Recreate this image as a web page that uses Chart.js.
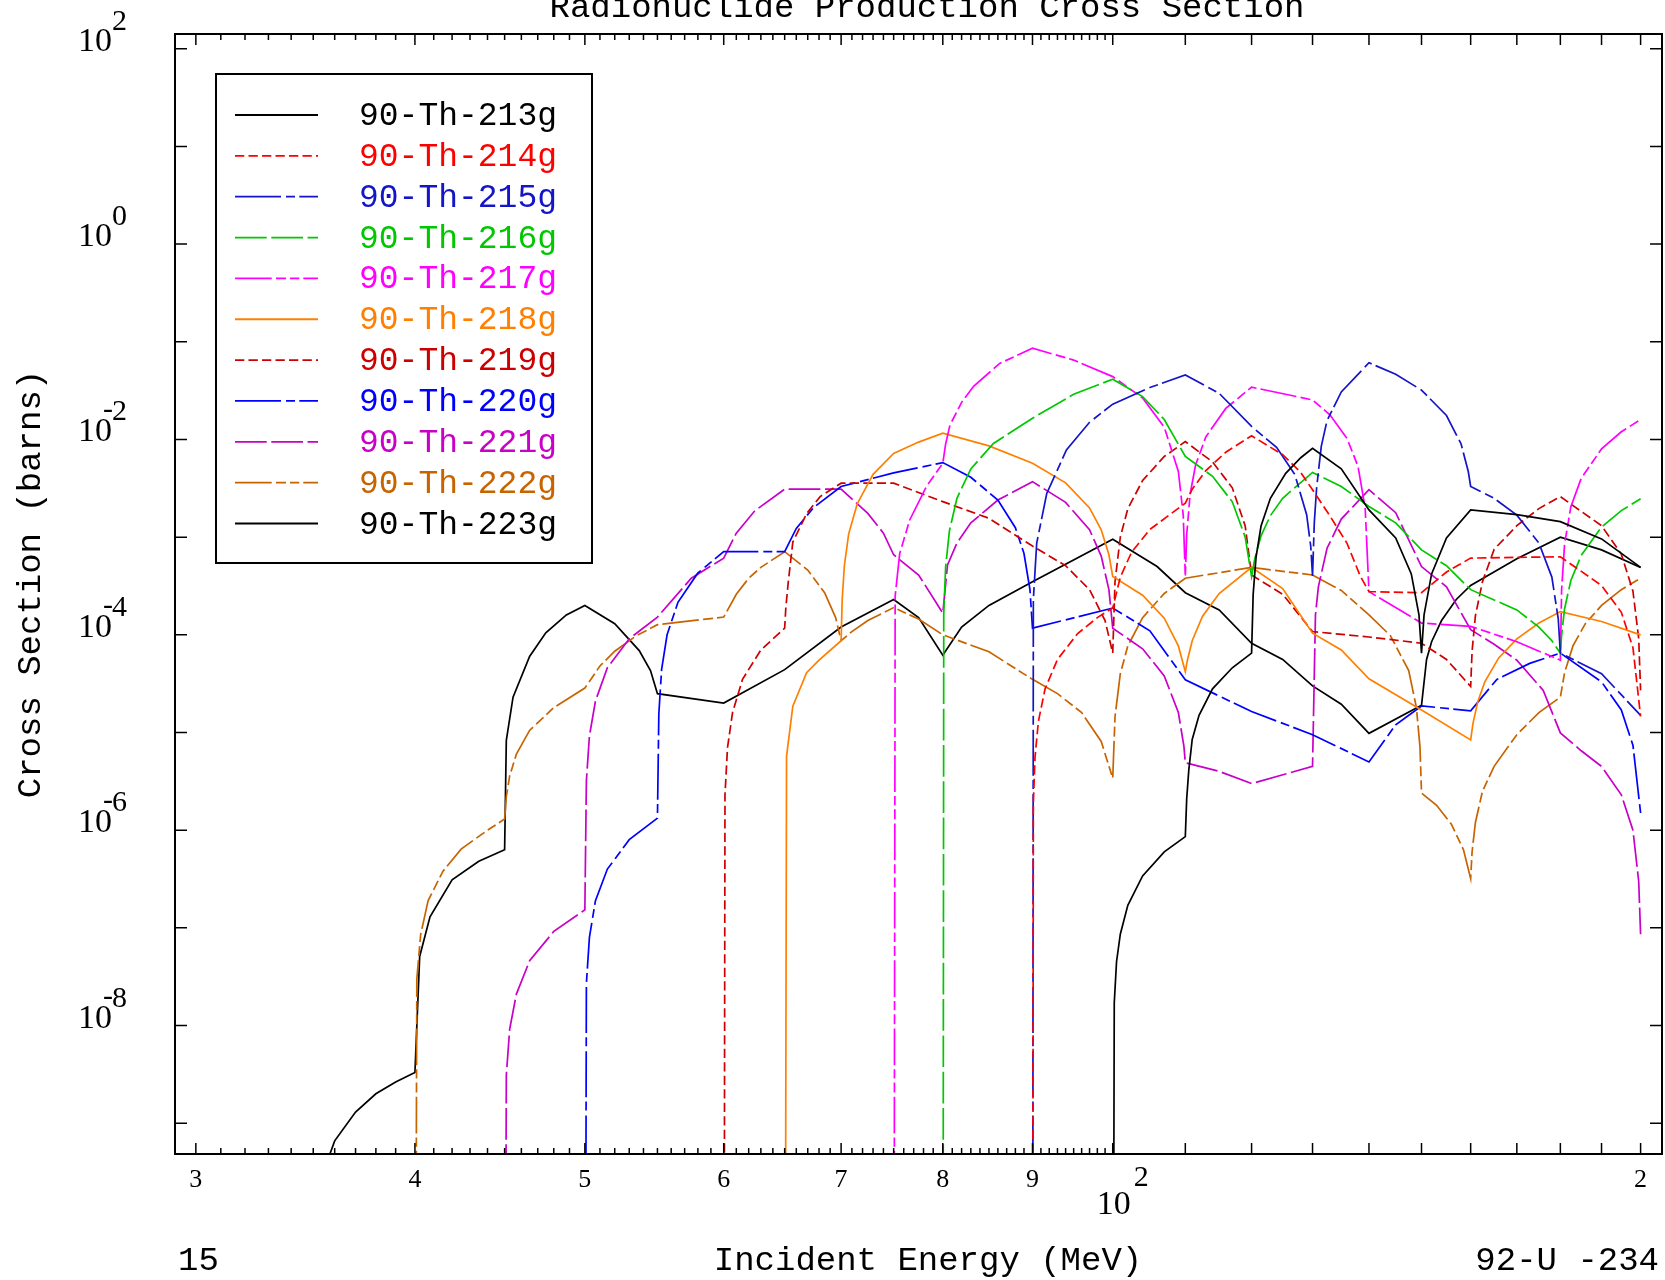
<!DOCTYPE html>
<html>
<head>
<meta charset="utf-8">
<script src="https://cdn.jsdelivr.net/npm/chart.js@4.4.0/dist/chart.umd.min.js"></script>
<style>
  html, body { margin: 0; padding: 0; background: #fff; }
  #wrap { width: 1665px; height: 1280px; }
</style>
</head>
<body>
<div id="wrap"><canvas id="xs" width="1665" height="1280"></canvas></div>
<script>
// [incident energy (MeV), cross section (barns)]; 0 = reaction threshold
const th213 = [[100,0],[100.2,1.7e-8],[100.5,4.5e-8],[101,8.6e-8],[102,1.7e-7],[104,3.4e-7],[107,6.0e-7],[110,8.6e-7],
  [110.2,2.1e-6],[110.5,4.1e-6],[111,8.5e-6],[112,1.5e-5],[114,2.8e-5],[117,4.6e-5],[120,6.5e-5],[120.25,2.6e-4],
  [120.7,6.2e-4],[121.5,1.3e-3],[123,2.5e-3],[125.5,4.5e-3],[128,6.5e-3],[130,8.1e-3],[135,5.0e-3],[140,1.9e-3],
  [145,9.8e-4],[148,4.2e-4],[149.5,1.6e-4],[150,6.5e-5],[150.5,1.6e-4],[152,4.2e-4],[155,9.8e-4],[160,1.9e-3],
  [170,1.7e-3],[180,1.44e-3],[190,9.6e-4],[200,4.9e-4]];
const th214 = [[90,0],[90.1,1.9e-6],[90.3,5.6e-6],[90.7,1.3e-5],[91.5,2.8e-5],[93,5.6e-5],[95.5,1.03e-4],[98,1.5e-4],
  [100,1.88e-4],[101,3.9e-4],[102.5,7.0e-4],[105,1.2e-3],[110,2.23e-3],[111,3.1e-3],[113,4.8e-3],[116,7.4e-3],
  [120,1.09e-2],[125,7.0e-3],[128,4.6e-3],[130,3.05e-3],[133,1.65e-3],[136,8.7e-4],[138.4,4.0e-4],[140,2.77e-4],
  [150,2.7e-4],[155,4.4e-4],[160,6.1e-4],[180,6.3e-4],[190,3.2e-4],[195,1.7e-4],[198,7.4e-5],[200,1.46e-5]];
const th215 = [[90,0],[90.1,2.3e-4],[90.5,8.7e-4],[91.7,2.8e-3],[94.1,7.8e-3],[97,1.5e-2],[100,2.3e-2],[105,3.4e-2],
  [110,4.58e-2],[115,2.97e-2],[120,1.36e-2],[124,8.3e-3],[127,4.4e-3],[129,1.7e-3],[129.7,8.0e-4],[130,4.0e-4],
  [130.3,1.4e-3],[130.7,3.2e-3],[131.5,8.5e-3],[132.5,1.56e-2],[135,3.07e-2],[140,6.1e-2],[145,4.66e-2],[150,3.2e-2],
  [155,1.76e-2],[158,9.0e-3],[159.5,4.7e-3],[160,3.3e-3],[165,2.5e-3],[170,1.68e-3],[175,8.7e-4],[178,3.9e-4],
  [179.5,1.46e-4],[180,6.5e-5],[190,4.0e-5],[200,1.5e-5]];
const th216 = [[80,0],[80.1,1.65e-4],[80.3,5.0e-4],[80.7,1.16e-3],[81.5,2.5e-3],[83,5.0e-3],[85.5,9.1e-3],[90,1.65e-2],
  [95,2.9e-2],[100,4.14e-2],[104,2.75e-2],[107,1.6e-2],[110,6.7e-3],[114,4.2e-3],[117,2.3e-3],[119,1.0e-3],
  [120,3.95e-4],[120.5,6.0e-4],[121.5,1.03e-3],[123,1.66e-3],[125,2.5e-3],[130,4.6e-3],[135,3.3e-3],[140,2.06e-3],
  [145,1.4e-3],[150,7.4e-4],[155,5.1e-4],[160,2.9e-4],[170,1.8e-4],[175,1.2e-4],[178,8.7e-5],[180,6.5e-5],
  [180.3,1.0e-4],[181,1.85e-4],[182.5,3.6e-4],[185,6.5e-4],[190,1.27e-3],[195,1.87e-3],[200,2.47e-3]];
const th217 = [[75,0],[75.15,2.5e-4],[75.6,6.8e-4],[76.6,1.5e-3],[78.3,3.3e-3],[80,5.7e-3],[80.3,9.0e-3],[80.75,1.4e-2],
  [82,2.4e-2],[83.3,3.5e-2],[86.2,6.0e-2],[90,8.6e-2],[95,6.5e-2],[100,4.4e-2],[104,2.66e-2],[107,1.34e-2],
  [109,4.7e-3],[109.7,1.68e-3],[110,3.95e-4],[110.2,1.07e-3],[110.7,2.76e-3],[111.5,5.5e-3],[113,1.06e-2],
  [116,2.08e-2],[120,3.43e-2],[130,2.54e-2],[133,1.79e-2],[136,1.03e-2],[138,5.3e-3],[139.3,2.0e-3],[140,2.77e-4],
  [150,1.32e-4],[160,1.22e-4],[170,8.5e-5],[180,5.5e-5],[180.3,2.9e-4],[181,8.5e-4],[182.5,2.05e-3],[185,4.0e-3],
  [190,8.0e-3],[195,1.2e-2],[200,1.6e-2]];
const th218 = [[65,0],[65.16,5.7e-6],[65.7,1.86e-5],[66.9,4.1e-5],[68,5.5e-5],[70,8.7e-5],[70.1,2.3e-4],[70.3,5.1e-4],
  [70.7,1.08e-3],[71.5,2.2e-3],[73,4.4e-3],[75,7.2e-3],[77.5,9.4e-3],[80,1.16e-2],[85,8.6e-3],[90,5.7e-3],
  [94,3.6e-3],[97,1.99e-3],[98.5,1.19e-3],[99.5,6.6e-4],[100,3.95e-4],[104,2.54e-4],[107,1.48e-4],[109,7.7e-5],
  [110,4.2e-5],[110.3,5.5e-5],[111,8.7e-5],[112.5,1.54e-4],[115,2.65e-4],[120,4.9e-4],[125,2.97e-4],[130,1.04e-4],
  [135,7.0e-5],[140,3.55e-5],[150,1.7e-5],[160,8.4e-6],[160.5,1.25e-5],[161.5,2.07e-5],[163,3.3e-5],[166,5.8e-5],
  [170,9.1e-5],[175,1.32e-4],[180,1.73e-4],[190,1.37e-4],[200,1.0e-4]];
const th219 = [[60,0],[60.1,2.3e-6],[60.3,7.0e-6],[60.7,1.6e-5],[61.5,3.5e-5],[63,7.0e-5],[65,1.17e-4],[65.1,1.9e-4],
  [65.3,3.4e-4],[65.7,8.9e-4],[66.9,1.74e-3],[68.1,2.6e-3],[70,3.57e-3],[75,3.57e-3],[80,2.31e-3],[85,1.56e-3],
  [90,8.1e-4],[94,5.1e-4],[97,2.9e-4],[99,1.4e-4],[100,6.5e-5],[100.3,3.5e-4],[101,1.0e-3],[102,1.95e-3],
  [104,3.8e-3],[107,6.7e-3],[110,9.5e-3],[114,5.9e-3],[117,3.2e-3],[119,1.3e-3],[120,4.1e-4],[125,2.6e-4],
  [130,1.08e-4],[140,9.5e-5],[150,8.2e-5],[155,5.6e-5],[160,2.96e-5],[160.3,6.8e-5],[161,1.57e-4],[162.5,3.5e-4],
  [165,7.5e-4],[170,1.31e-3],[175,1.96e-3],[180,2.6e-3],[190,1.31e-3],[195,6.7e-4],[198,2.8e-4],[199.5,9.2e-5],
  [200,2.7e-5]];
const th220 = [[50,0],[50.1,2.7e-8],[50.3,8.0e-8],[50.7,1.9e-7],[51.5,4.0e-7],[53,8.0e-7],[55,1.33e-6],[55.1,1.55e-5],
  [55.3,4.4e-5],[55.7,1.0e-4],[56.5,2.15e-4],[58,4.3e-4],[60,7.1e-4],[65,7.1e-4],[66,1.23e-3],[67.5,2.0e-3],
  [70,3.3e-3],[75,4.55e-3],[80,5.8e-3],[83,4.1e-3],[86,2.4e-3],[88,1.25e-3],[89,6.8e-4],[89.7,2.9e-4],[90,1.17e-4],
  [100,1.88e-4],[105,1.1e-4],[110,3.46e-5],[120,1.64e-5],[130,9.5e-6],[140,5.0e-6],[145,1.2e-5],[150,1.87e-5],
  [160,1.67e-5],[165.6,3.5e-5],[172.9,5.1e-5],[180,6.5e-5],[190,3.3e-5],[195,1.7e-5],[198,7.4e-6],[200,1.5e-6]];
const th221 = [[45,0],[45.1,3.1e-9],[45.3,9.2e-9],[45.7,2.1e-8],[46.5,4.6e-8],[48,9.2e-8],[50,1.53e-7],[50.1,3.2e-6],
  [50.3,9.2e-6],[50.7,2.1e-5],[51.5,4.6e-5],[53,9.1e-5],[55,1.52e-4],[57.5,3.8e-4],[60,6.1e-4],[61,1.1e-3],
  [62.5,1.86e-3],[65,3.1e-3],[70,3.1e-3],[72.5,1.75e-3],[74,1.1e-3],[75,6.6e-4],[77.5,4.1e-4],[80,1.67e-4],
  [80.5,5.2e-4],[81.5,8.7e-4],[83,1.4e-3],[86,2.4e-3],[90,3.7e-3],[94,2.27e-3],[97,1.19e-3],[98.5,6.4e-4],
  [99.5,2.9e-4],[100,1.17e-4],[104,7.2e-5],[107,3.8e-5],[109,1.6e-5],[109.8,7.2e-6],[110,4.9e-6],[115,4.0e-6],
  [120,3.0e-6],[130,4.5e-6],[130.5,1.6e-4],[131,3.1e-4],[132.5,7.7e-4],[135,1.53e-3],[140,3.06e-3],[145,1.78e-3],
  [150,5.0e-4],[155,3.1e-4],[160,1.13e-4],[165,8.0e-5],[170,5.5e-5],[176,2.7e-5],[180,9.9e-6],[185,6.5e-6],
  [190,4.5e-6],[195,2.3e-6],[198,1.0e-6],[199.5,3.0e-7],[200,8.6e-8]];
const th222 = [[40,0],[40.1,3.0e-8],[40.3,8.5e-8],[40.7,1.9e-7],[41.5,3.8e-7],[42.5,6.4e-7],[44,1.0e-6],[45,1.3e-6],
  [45.1,2.2e-6],[45.3,3.6e-6],[45.7,6.0e-6],[46.5,1.05e-5],[48,1.8e-5],[50,2.85e-5],[51,4.8e-5],[52,6.8e-5],
  [53.5,9.8e-5],[55,1.27e-4],[60,1.52e-4],[61,2.6e-4],[62,3.8e-4],[63,4.9e-4],[65,7.1e-4],[67,4.6e-4],[68.5,2.7e-4],
  [69.5,1.5e-4],[70,8.7e-5],[71,1.08e-4],[72.5,1.4e-4],[75,1.9e-4],[77.5,1.45e-4],[80,1.0e-4],[85,6.7e-5],
  [90,3.5e-5],[93,2.5e-5],[96,1.6e-5],[98.5,8.1e-6],[100,3.4e-6],[100.3,1.45e-5],[101,4.0e-5],[102,7.7e-5],
  [104,1.5e-4],[107,2.65e-4],[110,3.8e-4],[120,4.9e-4],[130,4.1e-4],[135,2.85e-4],[140,1.6e-4],[144,9.8e-5],
  [147.5,4.3e-5],[149,1.8e-5],[149.7,7.1e-6],[150,2.4e-6],[153,1.8e-6],[156,1.15e-6],[158.5,6.3e-7],[160,3.2e-7],
  [160.3,6.0e-7],[161,1.2e-6],[162.5,2.5e-6],[165,4.5e-6],[170,9.5e-6],[175,1.6e-5],[180,2.3e-5],[181,4.1e-5],
  [183,7.7e-5],[186,1.3e-4],[190,2.0e-4],[195,2.9e-4],[200,3.8e-4]];
const th223 = [[35,0],[35.5,3.3e-10],[36,6.6e-10],[37,1.3e-9],[38,2.0e-9],[39,2.64e-9],[40,3.3e-9],[40.25,5.1e-8],
  [40.8,1.3e-7],[42,3.1e-7],[43.5,4.8e-7],[45,6.3e-7],[45.1,8.3e-6],[45.5,2.3e-5],[46.5,6.0e-5],[47.5,1.05e-4],
  [48.8,1.6e-4],[50,2.0e-4],[52,1.3e-4],[53.7,6.9e-5],[54.5,4.3e-5],[55,2.5e-5],[60,2.0e-5],[65,4.4e-5],[70,1.2e-4],
  [75,2.3e-4],[77.5,1.5e-4],[80,6.2e-5],[82,1.2e-4],[85,2.0e-4],[90,3.5e-4],[100,9.5e-4],[106,5.0e-4],[110,2.7e-4],
  [115,1.8e-4],[120,8.2e-5],[125,5.6e-5],[130,3.0e-5],[135,1.95e-5],[140,9.8e-6],[150,1.9e-5],[151,5.6e-5],
  [152,8.5e-5],[154,1.4e-4],[157,2.3e-4],[160,3.2e-4],[170,6.0e-4],[180,1.0e-3],[190,7.4e-4],[200,4.9e-4]];

const seriesNames = ['90-Th-213g','90-Th-214g','90-Th-215g','90-Th-216g','90-Th-217g','90-Th-218g',
  '90-Th-219g','90-Th-220g','90-Th-221g','90-Th-222g','90-Th-223g'];
const seriesData = [th213, th214, th215, th216, th217, th218, th219, th220, th221, th222, th223];

// axis ticks
const xMajor = [30, 40, 50, 60, 70, 80, 90, 100, 110, 120, 130, 140, 150, 160, 170, 180, 190, 200];
const xLabelAt = [30, 40, 50, 60, 70, 80, 90, 200];
const xLabelText = ['3', '4', '5', '6', '7', '8', '9', '2'];
const yDecades = [2, 1, 0, -1, -2, -3, -4, -5, -6, -7, -8, -9];
const yLabelExp = [2, 0, -2, -4, -6, -8];

// styles
const lineColors = ['#000000','#ff0000','#1414c8','#00c800','#ff00ff','#ff8000',
  '#cc0000','#0000ff','#c800c8','#c86400','#000000'];
const DASH_SHORT = [9.3, 4.2];
const DASH_DOT = [46, 5, 9, 4.3];
const DASH_LONG = [31.7, 4.6];
const DASH_LSS = [36.7, 4.3, 10, 4, 9.3, 4];
const lineDashes = [[], DASH_SHORT, DASH_DOT, DASH_LONG, DASH_LSS, [],
  DASH_SHORT, DASH_DOT, DASH_LONG, DASH_LSS, []];

const MONO = '"Liberation Mono", "DejaVu Sans Mono", monospace';
const SERIF = '"Liberation Serif", "DejaVu Serif", serif';

// a zero cross section cannot sit on a log axis: push it far below the frame so the rise is vertical
const FLOOR = 1e-14;

const frame = {
  id: 'frame',
  afterDatasetsDraw(chart) {
    const { ctx, chartArea: a, scales: { x, y } } = chart;
    ctx.save();
    ctx.setLineDash([]);
    ctx.strokeStyle = '#000';
    ctx.fillStyle = '#000';

    // legend
    ctx.fillStyle = '#fff';
    ctx.fillRect(216, 74, 376, 489);
    ctx.lineWidth = 2;
    ctx.strokeRect(216, 74, 376, 489);
    ctx.font = '33px ' + MONO;
    ctx.textAlign = 'left';
    ctx.textBaseline = 'alphabetic';
    seriesNames.forEach((name, i) => {
      const ly = 115 + 40.85 * i;
      ctx.strokeStyle = lineColors[i];
      ctx.lineWidth = 1.8;
      ctx.setLineDash(lineDashes[i]);
      ctx.beginPath();
      ctx.moveTo(235, ly);
      ctx.lineTo(318, ly);
      ctx.stroke();
      ctx.fillStyle = lineColors[i];
      ctx.fillText(name, 359, ly + 10);
    });
    ctx.setLineDash([]);

    // frame
    ctx.strokeStyle = '#000';
    ctx.fillStyle = '#000';
    ctx.lineWidth = 2;
    ctx.strokeRect(a.left, a.top, a.right - a.left, a.bottom - a.top);

    // ticks
    ctx.lineWidth = 1.5;
    ctx.beginPath();
    for (let e = 30; e < 100; e++) {
      const px = x.getPixelForValue(e);
      ctx.moveTo(px, a.bottom); ctx.lineTo(px, a.bottom - 6);
      ctx.moveTo(px, a.top); ctx.lineTo(px, a.top + 6);
    }
    xMajor.forEach(e => {
      const px = x.getPixelForValue(e);
      ctx.moveTo(px, a.bottom); ctx.lineTo(px, a.bottom - 11);
      ctx.moveTo(px, a.top); ctx.lineTo(px, a.top + 11);
    });
    yDecades.forEach(d => {
      const py = y.getPixelForValue(Math.pow(10, d));
      ctx.moveTo(a.left, py); ctx.lineTo(a.left + 12, py);
      ctx.moveTo(a.right, py); ctx.lineTo(a.right - 12, py);
    });
    ctx.stroke();

    // x tick labels
    ctx.font = '26px ' + SERIF;
    ctx.textAlign = 'center';
    xLabelAt.forEach((e, i) => {
      ctx.fillText(xLabelText[i], x.getPixelForValue(e), 1187);
    });
    const p100 = x.getPixelForValue(100);
    ctx.font = '34px ' + SERIF;
    ctx.fillText('10', p100 + 1, 1214);
    ctx.font = '30px ' + SERIF;
    ctx.textAlign = 'left';
    ctx.fillText('2', p100 + 21, 1186);

    // y tick labels
    yLabelExp.forEach(d => {
      const py = y.getPixelForValue(Math.pow(10, d));
      ctx.font = '34px ' + SERIF;
      ctx.textAlign = 'right';
      ctx.fillText('10', 112, py + 2);
      ctx.font = '30px ' + SERIF;
      ctx.textAlign = 'left';
      ctx.fillText(String(Math.abs(d)), 112, py - 19);
      if (d < 0) {
        ctx.textAlign = 'right';
        ctx.fillText('-', 113, py - 21);
      }
    });

    // titles
    ctx.font = '34px ' + MONO;
    ctx.textAlign = 'center';
    ctx.fillText('Radionuclide Production Cross Section', 927, 17);
    ctx.fillText('Incident Energy (MeV)', 928, 1270);
    ctx.textAlign = 'left';
    ctx.fillText('15', 178, 1270);
    ctx.textAlign = 'right';
    ctx.fillText('92-U -234', 1659, 1270);
    ctx.save();
    ctx.translate(40, 584);
    ctx.rotate(-Math.PI / 2);
    ctx.textAlign = 'center';
    ctx.fillText('Cross Section (barns)', 0, 0);
    ctx.restore();

    ctx.restore();
  }
};

const datasets = seriesData.map((pts, i) => ({
  label: seriesNames[i],
  data: pts.map(p => ({ x: p[0], y: p[1] > 0 ? p[1] : FLOOR })),
  borderColor: lineColors[i],
  borderDash: lineDashes[i],
  borderWidth: 1.7,
  pointRadius: 0,
  tension: 0,
  fill: false,
  clip: 0
}));

new Chart(document.getElementById('xs'), {
  type: 'line',
  data: { datasets },
  options: {
    responsive: false,
    animation: false,
    events: [],
    layout: { padding: { left: 175, top: 34, right: 3, bottom: 126 } },
    plugins: {
      legend: { display: false },
      title: { display: false },
      tooltip: { enabled: false }
    },
    scales: {
      x: { type: 'logarithmic', min: 29.19, max: 205.7, display: false },
      y: { type: 'logarithmic', min: 4.84e-10, max: 141.6, display: false }
    }
  },
  plugins: [frame]
});
</script>
</body>
</html>
